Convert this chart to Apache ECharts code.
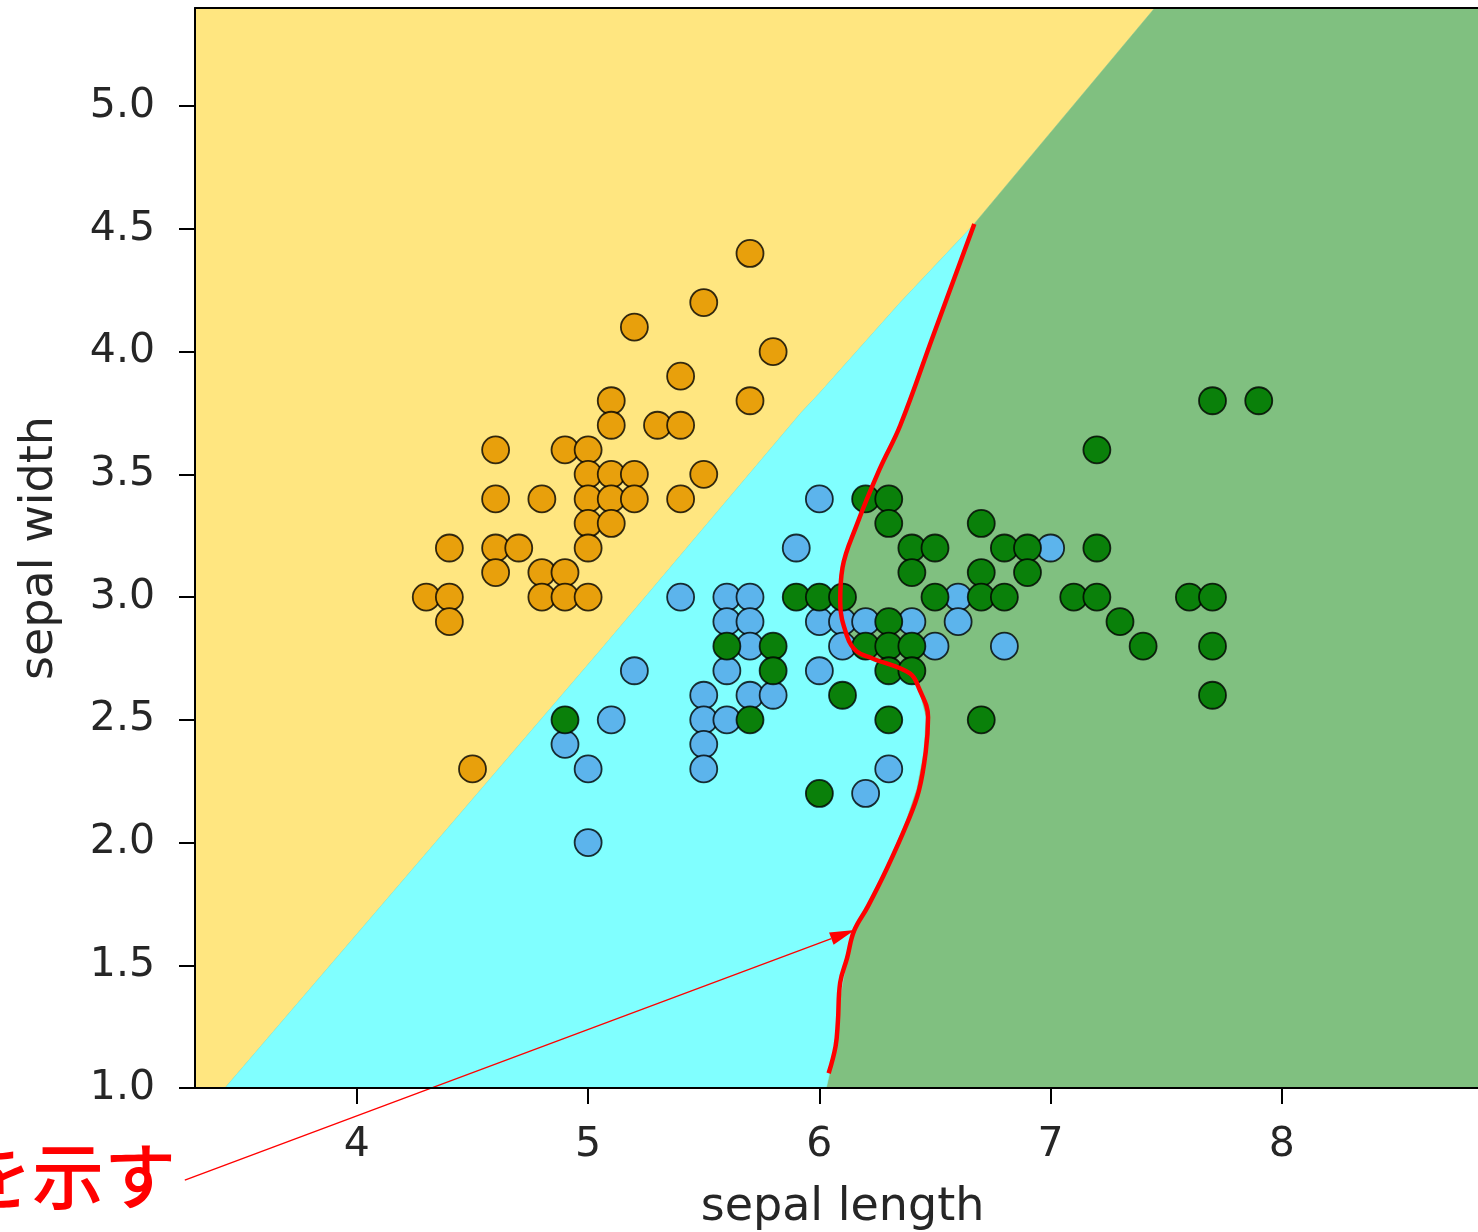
<!DOCTYPE html>
<html>
<head>
<meta charset="utf-8">
<script src="https://cdn.jsdelivr.net/npm/echarts@6/dist/echarts.min.js"></script>
<style>
html,body{margin:0;padding:0;background:#fff;}
#chart{width:1478px;height:1232px;}
</style>
</head>
<body>
<div id="chart"></div>
<script>
// ---- axis ranges & ticks ----
const xRange = [3.3, 8.9];
const yRange = [1.0, 5.4];
const xTicks = [4, 5, 6, 7, 8];
const yTicks = [1.0, 1.5, 2.0, 2.5, 3.0, 3.5, 4.0, 4.5, 5.0];
const xName = 'sepal length';
const yName = 'sepal width';
const noteText = 'を示す';

// ---- data points [sepal length, sepal width] ----
const setosa = [[5.7,4.4],[5.5,4.2],[5.2,4.1],[5.8,4.0],[5.4,3.9],[5.7,3.8],[5.1,3.8],[5.1,3.7],[5.3,3.7],[5.4,3.7],
  [4.6,3.6],[4.9,3.6],[5.0,3.6],[5.0,3.5],[5.1,3.5],[5.2,3.5],[5.5,3.5],[4.6,3.4],[4.8,3.4],[5.0,3.4],[5.1,3.4],
  [5.2,3.4],[5.4,3.4],[5.0,3.3],[5.1,3.3],[4.4,3.2],[4.6,3.2],[4.7,3.2],[5.0,3.2],[4.6,3.1],[4.8,3.1],[4.9,3.1],
  [4.3,3.0],[4.4,3.0],[4.8,3.0],[4.9,3.0],[5.0,3.0],[4.4,2.9],[4.5,2.3]];
const versicolor = [[6.0,3.4],[5.9,3.2],[7.0,3.2],[5.4,3.0],[5.6,3.0],[5.7,3.0],[6.6,3.0],[5.6,2.9],[5.7,2.9],[6.0,2.9],
  [6.1,2.9],[6.2,2.9],[6.4,2.9],[6.6,2.9],[5.7,2.8],[6.1,2.8],[6.5,2.8],[6.8,2.8],[5.2,2.7],[5.6,2.7],[6.0,2.7],
  [5.5,2.6],[5.7,2.6],[5.8,2.6],[5.1,2.5],[5.5,2.5],[5.6,2.5],[4.9,2.4],[5.5,2.4],[5.0,2.3],[5.5,2.3],[6.3,2.3],
  [6.2,2.2],[5.0,2.0]];
const virginica = [[7.7,3.8],[7.9,3.8],[7.2,3.6],[6.2,3.4],[6.3,3.4],[6.3,3.3],[6.7,3.3],[6.4,3.2],[6.5,3.2],[6.8,3.2],
  [6.9,3.2],[7.2,3.2],[6.4,3.1],[6.7,3.1],[6.9,3.1],[5.9,3.0],[6.0,3.0],[6.1,3.0],[6.5,3.0],[6.7,3.0],[6.8,3.0],
  [7.1,3.0],[7.2,3.0],[7.6,3.0],[7.7,3.0],[6.3,2.9],[7.3,2.9],[5.6,2.8],[5.8,2.8],[6.2,2.8],[6.3,2.8],[6.4,2.8],
  [7.4,2.8],[7.7,2.8],[5.8,2.7],[6.3,2.7],[6.4,2.7],[6.1,2.6],[7.7,2.6],[4.9,2.5],[5.7,2.5],[6.3,2.5],[6.7,2.5],
  [6.0,2.2]];

// ---- decision boundaries (data coords) ----
const diagBoundary = [[3.43,1.0],[5.05,2.78],[5.92,3.75],[6.00,3.83],[6.35,4.20],[6.66,4.51],[7.45,5.40]];
const junctionIndex = 5;
const cyanGreenBoundary = [[6.03,1.0],[6.07,1.17],[6.08,1.32],[6.12,1.53],[6.14,1.64],[6.21,1.76],[6.29,1.90],
  [6.37,2.08],[6.42,2.22],[6.45,2.37],[6.46,2.51],[6.43,2.62],[6.38,2.68],[6.23,2.74],[6.15,2.78],[6.11,2.85],
  [6.09,2.98],[6.10,3.12],[6.16,3.29],[6.26,3.52],[6.35,3.70],[6.49,4.06],[6.66,4.51]];

// ---- red annotation ----
const redCurve = [[6.67,4.52],[6.49,4.06],[6.35,3.70],[6.26,3.52],[6.16,3.29],[6.10,3.12],[6.09,2.98],[6.12,2.84],
  [6.16,2.78],[6.23,2.75],[6.39,2.69],[6.43,2.63],[6.47,2.51],[6.46,2.37],[6.43,2.21],[6.38,2.08],[6.29,1.89],
  [6.21,1.74],[6.15,1.64],[6.12,1.53],[6.09,1.43],[6.08,1.27],[6.07,1.17],[6.04,1.06]];
const arrowFrom = [3.256, 0.625];
const arrowTo = [6.153, 1.644];

const colors = {
  yellow: '#FFE680', cyan: '#80FFFF', green: '#80C080',
  setosa: '#E8A00C', versicolor: '#5CB4EC', virginica: '#0A800A'
};

const regions = [
  { color: colors.yellow, points: [[xRange[0], yRange[0]]].concat(diagBoundary, [[xRange[0], yRange[1]]]) },
  { color: colors.green, points: diagBoundary.concat([[xRange[1], yRange[1]], [xRange[1], yRange[0]]]) },
  { color: colors.cyan, points: diagBoundary.slice(0, junctionIndex + 1).concat(cyanGreenBoundary.slice().reverse()) }
];

const chart = echarts.init(document.getElementById('chart'), null, { renderer: 'canvas' });

const tickFont = { fontFamily: 'DejaVu Sans', fontSize: 41, color: '#262626' };
const nameFont = { fontFamily: 'DejaVu Sans', fontSize: 46, color: '#262626' };

function scatterSeries(name, data, color) {
  return {
    name, type: 'scatter', data, symbol: 'circle', symbolSize: 27, z: 4,
    itemStyle: { color, borderColor: 'rgba(0,0,0,0.8)', borderWidth: 1.8, opacity: 1 },
    emphasis: { disabled: true }
  };
}

chart.setOption({
  animation: false,
  backgroundColor: '#ffffff',
  grid: { left: 195, top: 8, width: 1295, height: 1080, containLabel: false, outerBoundsMode: 'none' },
  xAxis: [{
    type: 'value', min: xRange[0], max: xRange[1], z: 10,
    name: xName, nameLocation: 'middle', nameGap: 97, nameTextStyle: nameFont,
    splitLine: { show: false },
    axisLine: { show: true, onZero: false, lineStyle: { color: '#000', width: 2 } },
    axisTick: { show: true, length: 16, lineStyle: { color: '#000', width: 2 }, customValues: xTicks },
    axisLabel: Object.assign({ margin: 37, customValues: xTicks, formatter: v => String(v) }, tickFont)
  }, {
    type: 'value', position: 'top', min: xRange[0], max: xRange[1], z: 10,
    splitLine: { show: false }, axisTick: { show: false }, axisLabel: { show: false },
    axisLine: { show: true, onZero: false, lineStyle: { color: '#000', width: 2 } }
  }],
  yAxis: [{
    type: 'value', min: yRange[0], max: yRange[1], z: 10,
    name: yName, nameLocation: 'middle', nameGap: 132, nameTextStyle: nameFont,
    splitLine: { show: false },
    axisLine: { show: true, onZero: false, lineStyle: { color: '#000', width: 2 } },
    axisTick: { show: true, length: 16, lineStyle: { color: '#000', width: 2 }, customValues: yTicks },
    axisLabel: Object.assign({ margin: 40, customValues: yTicks, formatter: v => v.toFixed(1) }, tickFont)
  }],
  graphic: [{
    type: 'text', x: 176, y: 1176, z: 100,
    style: { text: noteText, fill: '#FF0000', fontSize: 72, fontWeight: 500,
      fontFamily: 'Noto Sans CJK JP', align: 'right', verticalAlign: 'middle' }
  }],
  series: [
    {
      type: 'custom', name: 'regions', clip: true, silent: true, z: 1,
      data: regions.map((r, i) => [xRange[0], yRange[0], i]),
      encode: { x: 0, y: 1 },
      renderItem: (params, api) => {
        const r = regions[params.dataIndex];
        return { type: 'polygon', shape: { points: r.points.map(p => api.coord(p)) },
          style: { fill: r.color, stroke: r.color, lineWidth: 0.5 } };
      }
    },
    scatterSeries('setosa', setosa, colors.setosa),
    scatterSeries('versicolor', versicolor, colors.versicolor),
    scatterSeries('virginica', virginica, colors.virginica),
    {
      type: 'line', name: 'boundary-note', data: redCurve, smooth: 0.4, symbol: 'none', z: 6,
      lineStyle: { color: '#FF0000', width: 4.5 }, silent: true
    },
    {
      type: 'custom', name: 'arrow', clip: false, silent: true, z: 7,
      data: [[arrowFrom[0], arrowFrom[1], arrowTo[0], arrowTo[1]]],
      encode: { x: [0, 2], y: [1, 3] },
      renderItem: (params, api) => {
        const a = api.coord([api.value(0), api.value(1)]);
        const b = api.coord([api.value(2), api.value(3)]);
        const dx = b[0] - a[0], dy = b[1] - a[1];
        const len = Math.sqrt(dx * dx + dy * dy);
        const ux = dx / len, uy = dy / len;
        const hl = 25, hw = 6.5;
        const base = [b[0] - ux * hl, b[1] - uy * hl];
        return { type: 'group', children: [
          { type: 'line', shape: { x1: a[0], y1: a[1], x2: base[0], y2: base[1] },
            style: { stroke: '#FF0000', lineWidth: 1.3 } },
          { type: 'polygon', shape: { points: [b,
              [base[0] - uy * hw, base[1] + ux * hw],
              [base[0] + uy * hw, base[1] - ux * hw]] },
            style: { fill: '#FF0000' } }
        ] };
      }
    }
  ]
});
</script>
</body>
</html>
